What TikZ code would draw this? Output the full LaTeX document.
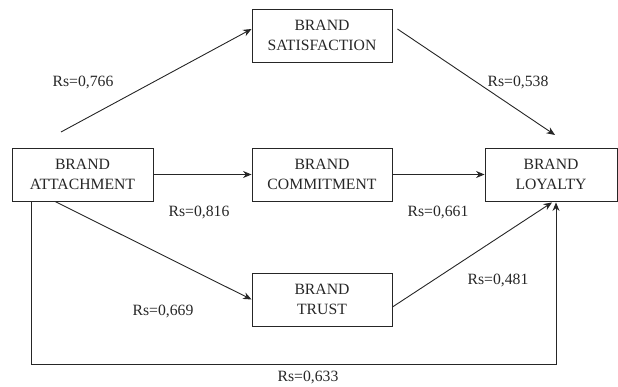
\documentclass[tikz,border=0pt]{standalone}
\usepackage{fontspec}
\setmainfont{Liberation Serif}
\usetikzlibrary{arrows.meta}
\begin{document}
\begin{tikzpicture}[x=1pt,y=-1pt,
  every node/.style={font=\fontsize{15.7}{20}\selectfont, text=black!85},
  boxnode/.style={draw=black!85, line width=0.9pt, minimum width=140pt, minimum height=53pt, align=center, inner sep=0pt},
  arr/.style={draw=black!85, line width=0.9pt, -{Stealth[length=8.5pt,width=7pt]}},
  lbl/.style={inner sep=0pt}]
\useasboundingbox (0,0) rectangle (618,387);
\node[boxnode] (sat) at (322,35.5) {BRAND\\SATISFACTION};
\node[boxnode, minimum width=141pt] (att) at (82.5,174.5) {BRAND\\ATTACHMENT};
\node[boxnode] (com) at (322,174.5) {BRAND\\COMMITMENT};
\node[boxnode, minimum width=132pt] (loy) at (551,174.5) {BRAND\\LOYALTY};
\node[boxnode] (tru) at (322,299.5) {BRAND\\TRUST};
\coordinate (s1) at (61,132);
\coordinate (e2) at (555,135);
\draw[arr] (s1) -- ([yshift=6.5pt]sat.west);
\draw[arr] ([xshift=5pt,yshift=6.5pt]sat.east) -- (e2);
\draw[arr] (att.east) -- (com.west);
\draw[arr] (com.east) -- (loy.west);
\draw[arr] ([xshift=-27.5pt]att.south) -- (tru.west);
\draw[arr] ([yshift=-7.5pt]tru.east) -- ([xshift=1pt,yshift=-1pt]loy.south);
\draw[arr] ([xshift=-51.5pt]att.south) -- ++(0,-163pt) -| ([xshift=5pt,yshift=-1pt]loy.south);
\node[lbl] (l1) at (83,82) {Rs=0,766};
\node[lbl] (l2) at (518,82) {Rs=0,538};
\node[lbl] (l3) at (199,212) {Rs=0,816};
\node[lbl] (l4) at (438,212) {Rs=0,661};
\node[lbl] (l5) at (163,311) {Rs=0,669};
\node[lbl] (l6) at (498,280) {Rs=0,481};
\node[lbl] (l7) at (308,377) {Rs=0,633};
\end{tikzpicture}
\end{document}
